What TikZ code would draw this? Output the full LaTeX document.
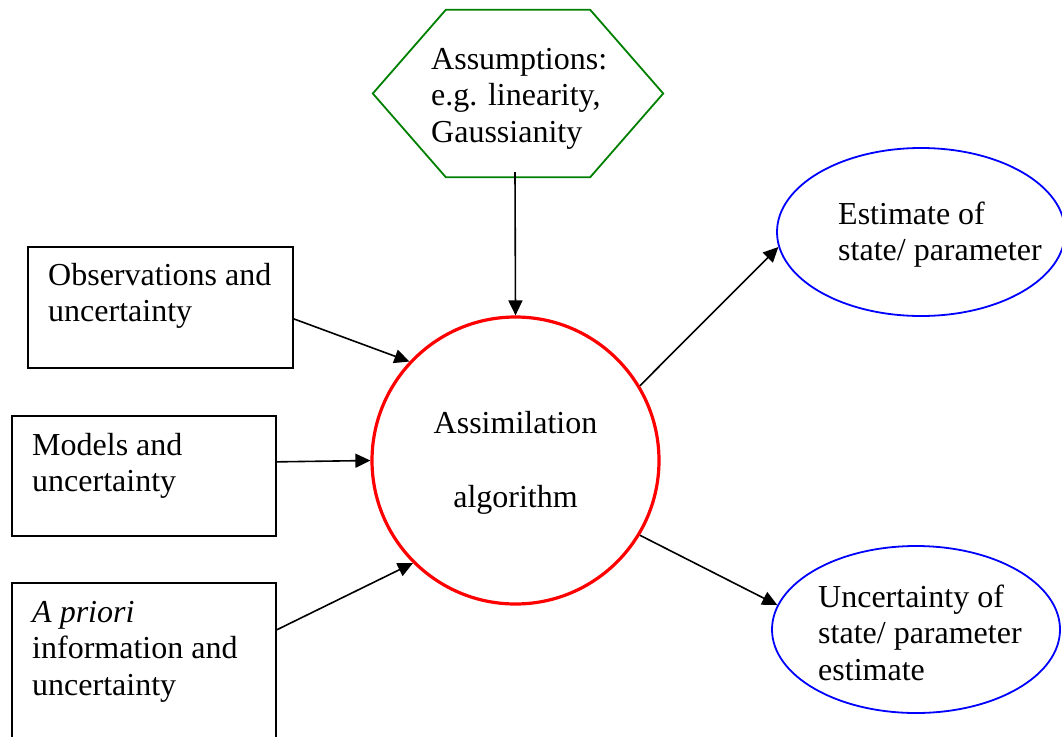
\documentclass[tikz,border=0pt]{standalone}
\usepackage{fontspec}
\setmainfont{Liberation Serif}
\usetikzlibrary{arrows.meta,shapes.geometric}
\begin{document}
\begin{tikzpicture}[x=1pt,y=-1pt,
  txt/.style={inner sep=0pt, anchor=north west, align=left, font=\fontsize{32}{36.5}\selectfont},
  boxnode/.style={draw=black, line width=1.7pt, inner sep=0pt, anchor=north west},
  outnode/.style={draw=blue, line width=1.8pt, ellipse, inner sep=0pt},
  conn/.style={draw=black, line width=1.6pt, -{Triangle[length=15pt,width=14pt]}}
]
\useasboundingbox (0,0) rectangle (1062,736);
\clip (0,0) rectangle (1062,736);

% hexagon
\node[inner sep=0pt, minimum width=290pt, minimum height=167pt] (hex) at (518,93.5) {};
\draw[draw={rgb,255:red,0;green,128;blue,0}, line width=1.8pt]
  (hex.west) -- ([xshift=73pt]hex.north west) -- ([xshift=-73pt]hex.north east)
  -- (hex.east) -- ([xshift=-73pt]hex.south east) -- ([xshift=73pt]hex.south west) -- cycle;
\node[txt] (hextxt) at (431,43.5) {\strut Assumptions:\\\strut e.g. linearity,\\\strut Gaussianity};

% central circle
\node[draw=red, line width=3.2pt, circle, minimum size=287pt, inner sep=0pt] (alg) at (515.5,460.5) {};
\node[txt, anchor=north, align=center] (algtxt) at (515.5,407.5) {\strut Assimilation\\[37.5pt]\strut algorithm};

% input boxes
\node[boxnode, minimum width=265pt, minimum height=121pt] (obs) at (27,246) {};
\node[txt] (obstxt) at (48,259.5) {\strut Observations and\\\strut uncertainty};

\node[boxnode, minimum width=264pt, minimum height=120pt] (mod) at (11,415) {};
\node[txt] (modtxt) at (32,429.5) {\strut Models and\\\strut uncertainty};

\node[boxnode, minimum width=264pt, minimum height=200pt] (pri) at (11,582) {};
\node[txt] (pritxt) at (32,596.5) {\strut\textit{A priori}\\\strut information and\\\strut uncertainty};

% output ellipses
\node[outnode, minimum width=288pt, minimum height=168pt] (est) at (921,232) {};
\node[txt] (esttxt) at (838,198.5) {\strut Estimate of\\\strut state/ parameter};

\node[outnode, minimum width=288pt, minimum height=167pt] (unc) at (916,629.5) {};
\node[txt] (unctxt) at (818,581.5) {\strut Uncertainty of\\\strut state/ parameter\\\strut estimate};

% connectors
\draw[conn] ([shift={(-3pt,5pt)}]hex.south) -- (alg.north);
\draw[conn] ([yshift=-11.5pt]obs.east) -- (alg.137);
\draw[conn] ([yshift=14pt]mod.east) -- (alg.180);
\draw[conn] ([yshift=53pt]pri.east) -- (alg.225);
\draw[conn] (alg.31) -- (est.186);
\draw[conn] (alg.329) -- (unc.170);
\end{tikzpicture}
\end{document}
